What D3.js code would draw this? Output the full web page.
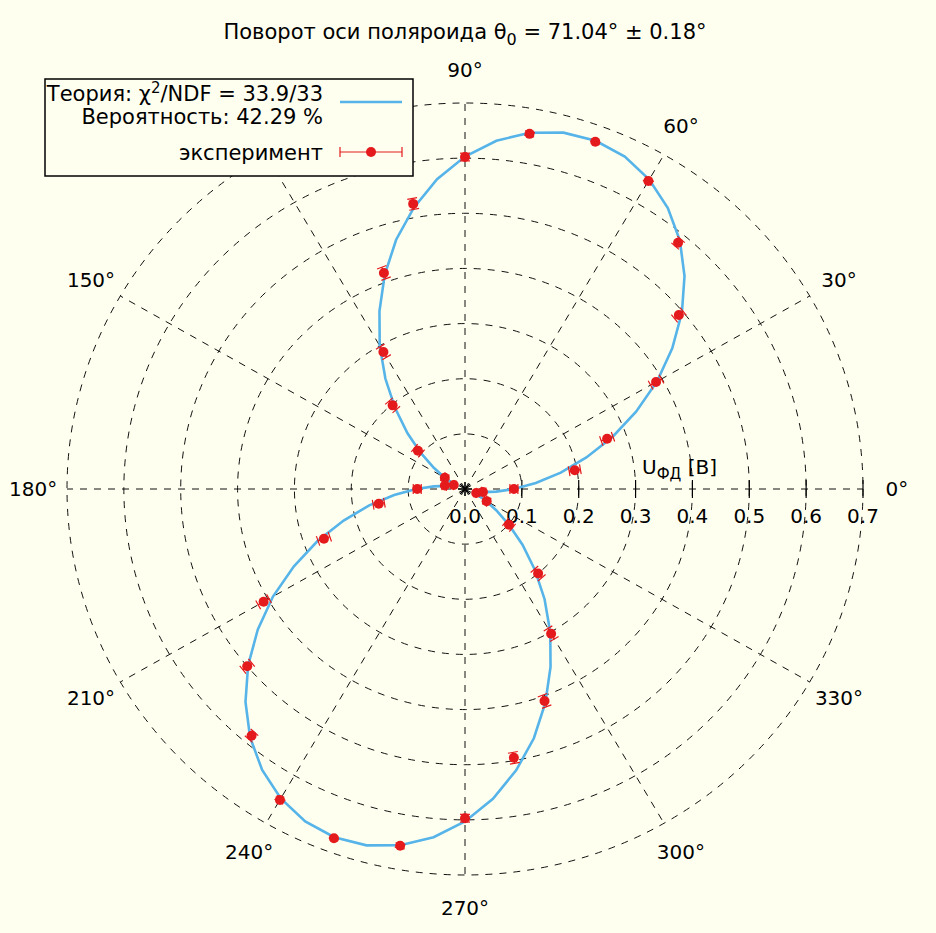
<!DOCTYPE html>
<html>
<head>
<meta charset="utf-8">
<title>Поворот оси поляроида</title>
<script src="https://d3js.org/d3.v7.min.js"></script>
<style>
  body { margin: 0; background: #fffff0; }
  text { font-family: "DejaVu Sans", sans-serif; fill: #000; }
</style>
</head>
<body>
<div id="vis"></div>
<script>
// measured angles (deg), photodiode voltage U [V] and its error
var angles = [0, 10, 20, 30, 40, 50, 60, 70, 80, 90, 100, 110, 120, 130, 140, 150, 160, 170,
              180, 190, 200, 210, 220, 230, 240, 250, 260, 270, 280, 290, 300, 310, 320, 330, 340, 350];
var voltage = [0.086, 0.196, 0.266, 0.388, 0.491, 0.583, 0.645, 0.670, 0.654, 0.602, 0.525, 0.417,
               0.287, 0.198, 0.108, 0.041, 0.021, 0.036,
               0.084, 0.154, 0.264, 0.409, 0.500, 0.584, 0.651, 0.674, 0.657, 0.597, 0.495, 0.409,
               0.303, 0.200, 0.101, 0.044, 0.021, 0.032];
var voltageErr = [0.007, 0.010, 0.011, 0.011, 0.010, 0.008, 0.004, 0.002, 0.004, 0.007, 0.010, 0.011,
                  0.011, 0.010, 0.008, 0.004, 0.002, 0.004,
                  0.007, 0.010, 0.011, 0.011, 0.010, 0.008, 0.004, 0.002, 0.004, 0.007, 0.010, 0.011,
                  0.011, 0.010, 0.008, 0.004, 0.002, 0.004];

// theory curve, every 5 deg
var theoryAngles = [0, 5, 10, 15, 20, 25, 30, 35, 40, 45, 50, 55, 60, 65, 70, 75, 80, 85,
                    90, 95, 100, 105, 110, 115, 120, 125, 130, 135, 140, 145, 150, 155, 160, 165, 170, 175,
                    180, 185, 190, 195, 200, 205, 210, 215, 220, 225, 230, 235, 240, 245, 250, 255, 260, 265,
                    270, 275, 280, 285, 290, 295, 300, 305, 310, 315, 320, 325, 330, 335, 340, 345, 350, 355, 360];
var theoryU = [0.086, 0.125, 0.171, 0.221, 0.276, 0.332, 0.390, 0.445, 0.498, 0.546, 0.588, 0.622, 0.648, 0.665, 0.672, 0.669, 0.656, 0.634,
               0.603, 0.564, 0.518, 0.468, 0.413, 0.356, 0.300, 0.244, 0.191, 0.143, 0.101, 0.067, 0.041, 0.024, 0.017, 0.020, 0.033, 0.055,
               0.086, 0.125, 0.171, 0.221, 0.276, 0.332, 0.390, 0.445, 0.498, 0.546, 0.588, 0.622, 0.648, 0.665, 0.672, 0.669, 0.656, 0.634,
               0.603, 0.564, 0.518, 0.468, 0.413, 0.356, 0.300, 0.244, 0.191, 0.143, 0.101, 0.067, 0.041, 0.024, 0.017, 0.020, 0.033, 0.055, 0.086];

var radialTicks = [0.0, 0.1, 0.2, 0.3, 0.4, 0.5, 0.6, 0.7];
var angleTicks = [0, 30, 60, 90, 120, 150, 180, 210, 240, 270, 300, 330];
// 120 deg label sits under the legend box in the original
var angleLabels = [0, 30, 60, 90, 150, 180, 210, 240, 270, 300, 330];

var width = 936, height = 933;
var rMax = 0.7;

var svg = d3.select("#vis").append("svg")
    .attr("width", width)
    .attr("height", height);

svg.append("rect").attr("width", width).attr("height", height).attr("fill", "#fffff0");

// the polar frame is slightly squashed vertically, like in the original
var sx = d3.scaleLinear().domain([-rMax, rMax]).range([67, 863]);
var sy = d3.scaleLinear().domain([-rMax, rMax]).range([875, 103]);
var rad = function(a) { return a * Math.PI / 180; };
function px(r, a) { return [sx(r * Math.cos(rad(a))), sy(r * Math.sin(rad(a)))]; }

var grid = svg.append("g")
    .attr("fill", "none")
    .attr("stroke", "#111")
    .attr("stroke-width", 1)
    .attr("stroke-dasharray", "7,7");

// circles
grid.selectAll("ellipse")
    .data(radialTicks.filter(function(d) { return d > 0; }))
    .enter().append("ellipse")
    .attr("cx", sx(0)).attr("cy", sy(0))
    .attr("rx", function(d) { return sx(d) - sx(0); })
    .attr("ry", function(d) { return sy(0) - sy(d); });

// spokes
grid.selectAll("line")
    .data(angleTicks)
    .enter().append("line")
    .attr("x1", sx(0)).attr("y1", sy(0))
    .attr("x2", function(d) { return px(rMax, d)[0]; })
    .attr("y2", function(d) { return px(rMax, d)[1]; });

// radial axis ticks along 0 deg
svg.append("g").selectAll("line")
    .data(radialTicks.filter(function(d) { return d > 0; }))
    .enter().append("line")
    .attr("x1", function(d) { return sx(d); }).attr("x2", function(d) { return sx(d); })
    .attr("y1", sy(0) - 9).attr("y2", sy(0) + 9)
    .attr("stroke", "#000").attr("stroke-width", 1.2);

svg.append("g").selectAll("text")
    .data(radialTicks)
    .enter().append("text")
    .attr("x", function(d) { return sx(d); })
    .attr("y", sy(0) + 34)
    .attr("text-anchor", "middle")
    .style("font-size", "20px")
    .text(function(d) { return d3.format(".1f")(d); });

// axis title
var at = svg.append("text")
    .attr("x", 642).attr("y", 474)
    .style("font-size", "20px");
at.append("tspan").text("U");
at.append("tspan").attr("dy", 5).style("font-size", "15px").text("ФД");
at.append("tspan").attr("dy", -5).text(" [В]");

// angle labels
svg.append("g").selectAll("text")
    .data(angleLabels)
    .enter().append("text")
    .attr("x", function(d) { return px(rMax * 1.085, d)[0]; })
    .attr("y", function(d) { return px(rMax * 1.085, d)[1] + 7; })
    .attr("text-anchor", "middle")
    .style("font-size", "20px")
    .text(function(d) { return d + "°"; });

// theory curve
var theory = theoryAngles.map(function(a, i) { return px(theoryU[i], a); });
svg.append("path")
    .attr("d", d3.line()(theory))
    .attr("fill", "none")
    .attr("stroke", "#56b4e9")
    .attr("stroke-width", 2.6);

// error bars
var red = "#e41a1c";
var eb = svg.append("g").attr("stroke", red).attr("stroke-width", 1.2);
angles.forEach(function(a, i) {
    var p1 = px(voltage[i] - voltageErr[i], a);
    var p2 = px(voltage[i] + voltageErr[i], a);
    var dx = p2[0] - p1[0], dy = p2[1] - p1[1];
    var len = Math.sqrt(dx * dx + dy * dy) || 1;
    var nx = -dy / len * 5, ny = dx / len * 5;
    eb.append("line").attr("x1", p1[0]).attr("y1", p1[1]).attr("x2", p2[0]).attr("y2", p2[1]);
    [p1, p2].forEach(function(p) {
        eb.append("line")
            .attr("x1", p[0] - nx).attr("y1", p[1] - ny)
            .attr("x2", p[0] + nx).attr("y2", p[1] + ny);
    });
});

svg.append("g").selectAll("circle")
    .data(angles)
    .enter().append("circle")
    .attr("cx", function(d, i) { return px(voltage[i], d)[0]; })
    .attr("cy", function(d, i) { return px(voltage[i], d)[1]; })
    .attr("r", 5)
    .attr("fill", red);

// centre star
var star = svg.append("g").attr("stroke", "#000").attr("stroke-width", 1.3);
[0, 45, 90, 135].forEach(function(a) {
    var dx = 7 * Math.cos(rad(a)), dy = 7 * Math.sin(rad(a));
    star.append("line")
        .attr("x1", sx(0) - dx).attr("y1", sy(0) - dy)
        .attr("x2", sx(0) + dx).attr("y2", sy(0) + dy);
});

// title
var title = svg.append("text")
    .attr("x", 465).attr("y", 39)
    .attr("text-anchor", "middle")
    .style("font-size", "21px");
title.append("tspan").text("Поворот оси поляроида θ");
title.append("tspan").attr("dy", 6).style("font-size", "16px").text("0");
title.append("tspan").attr("dy", -6).text(" = 71.04° ± 0.18°");

// legend
var lg = svg.append("g");
lg.append("rect")
    .attr("x", 45).attr("y", 79).attr("width", 368).attr("height", 97)
    .attr("fill", "#fffff0").attr("stroke", "#000").attr("stroke-width", 1.5);
var l1 = lg.append("text").attr("x", 323).attr("y", 101).attr("text-anchor", "end").style("font-size", "21px");
l1.append("tspan").text("Теория: χ");
l1.append("tspan").attr("dy", -8).style("font-size", "15px").text("2");
l1.append("tspan").attr("dy", 8).text("/NDF = 33.9/33");
lg.append("text").attr("x", 323).attr("y", 124).attr("text-anchor", "end").style("font-size", "21px")
    .text("Вероятность: 42.29 %");
lg.append("text").attr("x", 323).attr("y", 160).attr("text-anchor", "end").style("font-size", "21px")
    .text("эксперимент");
lg.append("line").attr("x1", 340).attr("x2", 402).attr("y1", 102).attr("y2", 102)
    .attr("stroke", "#56b4e9").attr("stroke-width", 2.6);
lg.append("line").attr("x1", 340).attr("x2", 402).attr("y1", 152).attr("y2", 152)
    .attr("stroke", red).attr("stroke-width", 1.2);
[340, 402].forEach(function(x) {
    lg.append("line").attr("x1", x).attr("x2", x).attr("y1", 147).attr("y2", 157)
        .attr("stroke", red).attr("stroke-width", 1.2);
});
lg.append("circle").attr("cx", 371).attr("cy", 152).attr("r", 5).attr("fill", red);
</script>
</body>
</html>
